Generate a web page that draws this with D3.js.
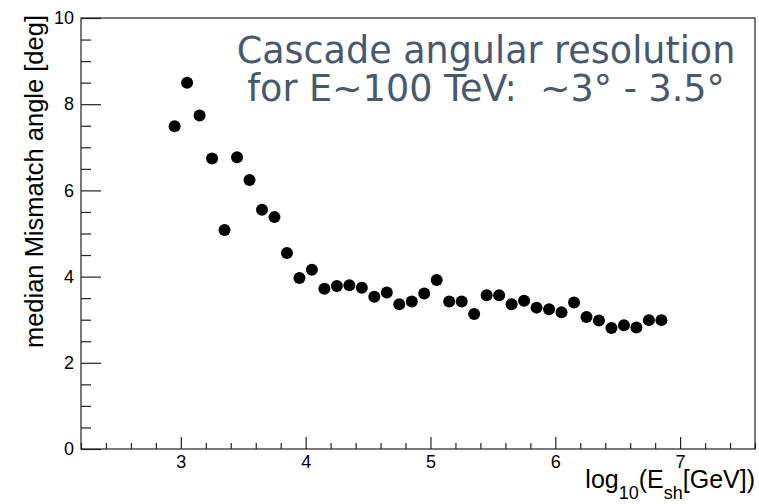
<!DOCTYPE html>
<html>
<head>
<meta charset="utf-8">
<script src="https://cdn.jsdelivr.net/npm/d3@7"></script>
<style>
  html, body { margin: 0; padding: 0; background: #fff; }
  svg { display: block; }
  text { white-space: pre; }
</style>
</head>
<body>
<div id="chart"></div>
<script>
// Bin centres of log10(E_sh / GeV) and the median mismatch angle in each bin
const energyBins = [2.95, 3.05, 3.15, 3.25, 3.35, 3.45, 3.55, 3.65, 3.75, 3.85,
                    3.95, 4.05, 4.15, 4.25, 4.35, 4.45, 4.55, 4.65, 4.75, 4.85,
                    4.95, 5.05, 5.15, 5.25, 5.35, 5.45, 5.55, 5.65, 5.75, 5.85,
                    5.95, 6.05, 6.15, 6.25, 6.35, 6.45, 6.55, 6.65, 6.75, 6.85];
const medianAngle = [7.49, 8.50, 7.74, 6.74, 5.08, 6.77, 6.24, 5.55, 5.38, 4.55,
                     3.97, 4.16, 3.72, 3.78, 3.80, 3.74, 3.53, 3.63, 3.36, 3.42,
                     3.61, 3.92, 3.42, 3.42, 3.13, 3.57, 3.57, 3.36, 3.44, 3.28,
                     3.24, 3.17, 3.40, 3.06, 2.98, 2.81, 2.87, 2.82, 2.99, 2.99];

const xMajorTicks = [3, 4, 5, 6, 7];
const yMajorTicks = [0, 2, 4, 6, 8, 10];
const xRange = [2.2, 7.6];
const yRange = [0, 10];
const titleLines = ["Cascade angular resolution", "for E~100 TeV:  ~3\u00b0 - 3.5\u00b0"];
const yTitle = "median Mismatch angle [deg]";

const W = 759, H = 504;
const plot = { left: 81, right: 755, top: 18, bottom: 449 };

const svg = d3.select("#chart").append("svg")
  .attr("width", W).attr("height", H);

const x = d3.scaleLinear().domain(xRange).range([plot.left, plot.right]);
const y = d3.scaleLinear().domain(yRange).range([plot.bottom, plot.top]);

const axisColor = "#222";
const tickFont = "'Liberation Sans', Arial, Helvetica, sans-serif";

// minor ticks every 0.2 in x and 0.5 in y
const xMinor = d3.range(Math.round(xRange[0] * 5), Math.round(xRange[1] * 5) + 1)
  .map(d => d / 5).filter(d => !xMajorTicks.includes(d));
const yMinor = d3.range(0, 21).map(d => d / 2).filter(d => !yMajorTicks.includes(d));

function styleAxis(g) {
  g.select(".domain").remove();
  g.selectAll(".tick line").attr("stroke", axisColor).attr("stroke-width", 1.2);
  g.selectAll(".tick text")
    .attr("fill", "#000")
    .style("font-family", tickFont)
    .style("font-size", "18px");
}

// x axis
svg.append("g").attr("transform", `translate(0,${plot.bottom})`)
  .call(d3.axisBottom(x).tickValues(xMinor).tickSize(-6).tickFormat(""))
  .call(styleAxis);
svg.append("g").attr("transform", `translate(0,${plot.bottom})`)
  .call(d3.axisBottom(x).tickValues(xMajorTicks).tickSize(-12).tickPadding(6).tickFormat(d3.format("d")))
  .call(styleAxis);

// y axis
svg.append("g").attr("transform", `translate(${plot.left},0)`)
  .call(d3.axisLeft(y).tickValues(yMinor).tickSize(-10).tickFormat(""))
  .call(styleAxis);
svg.append("g").attr("transform", `translate(${plot.left},0)`)
  .call(d3.axisLeft(y).tickValues(yMajorTicks).tickSize(-20).tickPadding(7).tickFormat(d3.format("d")))
  .call(styleAxis);

// frame
svg.append("rect")
  .attr("x", plot.left).attr("y", plot.top)
  .attr("width", plot.right - plot.left).attr("height", plot.bottom - plot.top)
  .attr("fill", "none").attr("stroke", axisColor).attr("stroke-width", 1.2);

// data points
svg.append("g").selectAll("circle")
  .data(energyBins.map((e, i) => ({ e, v: medianAngle[i] })))
  .join("circle")
  .attr("cx", d => x(d.e))
  .attr("cy", d => y(d.v))
  .attr("r", 6)
  .attr("fill", "#000");

// y axis title
svg.append("text")
  .attr("transform", `translate(43,${plot.top - 3}) rotate(-90)`)
  .attr("text-anchor", "end")
  .style("font-family", tickFont)
  .style("font-size", "25.5px")
  .attr("fill", "#000")
  .text(yTitle);

// x axis title with subscripts
const xt = svg.append("text")
  .attr("x", plot.right).attr("y", 488)
  .attr("text-anchor", "end")
  .style("font-family", tickFont)
  .style("font-size", "25px")
  .attr("fill", "#000");
xt.append("tspan").text("log");
xt.append("tspan").attr("dy", 11).style("font-size", "18px").text("10");
xt.append("tspan").attr("dy", -11).text("(E");
xt.append("tspan").attr("dy", 11).style("font-size", "18px").text("sh");
xt.append("tspan").attr("dy", -11).text("[GeV])");

// annotation
titleLines.forEach((t, i) => {
  svg.append("text")
    .attr("x", 486).attr("y", 63 + i * 38)
    .attr("text-anchor", "middle")
    .style("font-family", "'DejaVu Sans', sans-serif")
    .style("font-size", "36.5px")
    .attr("fill", "#48586e")
    .text(t);
});
</script>
</body>
</html>
